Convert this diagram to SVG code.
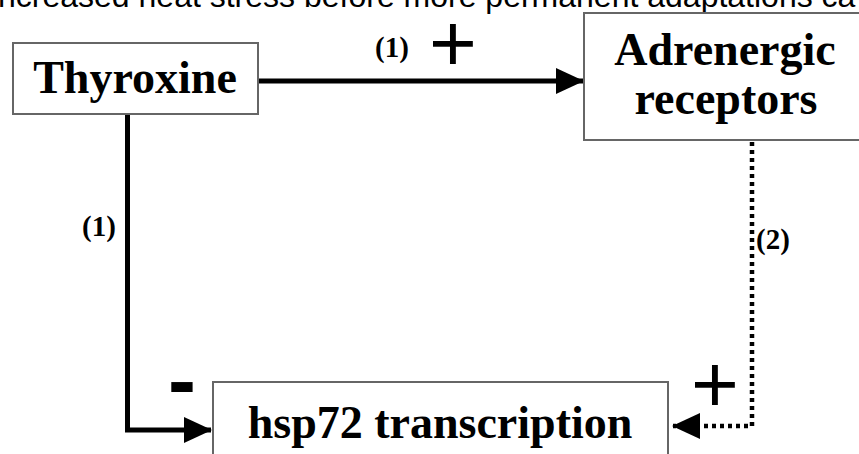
<svg xmlns="http://www.w3.org/2000/svg" width="859" height="454" viewBox="0 0 859 454">
  <defs>
    <style>
      .box { fill: #ffffff; stroke: #666666; stroke-width: 2; }
      .name { font-family: "Liberation Serif", "Times New Roman", serif; font-weight: bold; font-size: 46px; fill: #000000; text-anchor: middle; }
      .tag { font-family: "Liberation Serif", "Times New Roman", serif; font-weight: bold; font-size: 29px; fill: #000000; }
      .sign { font-family: "Liberation Sans", Arial, sans-serif; fill: #000000; text-anchor: middle; }
      .solid { fill: none; stroke: #000000; stroke-width: 5; }
      .dotted { fill: none; stroke: #000000; stroke-width: 4.5; stroke-dasharray: 4 4; }
      .caption { font-family: "Liberation Sans", Arial, sans-serif; font-size: 32px; fill: #000000; }
    </style>
    <marker id="head" viewBox="0 0 28 26" refX="27" refY="13" markerWidth="28" markerHeight="26" markerUnits="userSpaceOnUse" orient="auto">
      <path d="M0,0 L28,13 L0,26 z" fill="#000000" stroke="none"/>
    </marker>
  </defs>

  <rect width="859" height="454" fill="#ffffff"/>

  <!-- line of running text above the figure, cut at the top edge -->
  <text class="caption" x="-2" y="7">ncreased heat stress before more permanent adaptations ca</text>

  <g id="connectors">
    <!-- Thyroxine -> Adrenergic receptors -->
    <path class="solid" d="M259,81 L583,81" marker-end="url(#head)"/>
    <!-- Thyroxine -> hsp72 transcription -->
    <path class="solid" d="M127.5,114 L127.5,430 L211,430" marker-end="url(#head)"/>
    <!-- Adrenergic receptors -> hsp72 transcription -->
    <path class="dotted" d="M752,142 L752,426 L673,426" marker-end="url(#head)"/>

    <text class="tag" x="375" y="57">(1)</text>
    <text class="sign" x="453" y="71" font-size="82">+</text>
    <text class="tag" x="82" y="236">(1)</text>
    <text class="tag" x="756" y="249">(2)</text>
    <text class="sign" x="182" y="409" font-size="84" font-weight="bold">-</text>
    <text class="sign" x="715" y="412" font-size="82">+</text>
  </g>

  <g id="thyroxine">
    <rect class="box" x="13" y="43" width="245" height="71"/>
    <text class="name" x="135" y="93">Thyroxine</text>
  </g>

  <g id="adrenergic-receptors">
    <rect class="box" x="584" y="13" width="290" height="127"/>
    <text class="name" x="725" y="65">Adrenergic</text>
    <text class="name" x="726" y="114">receptors</text>
  </g>

  <g id="hsp72-transcription">
    <rect class="box" x="213" y="382" width="455" height="90"/>
    <text class="name" x="440" y="438" font-size="47">hsp72 transcription</text>
  </g>
</svg>
